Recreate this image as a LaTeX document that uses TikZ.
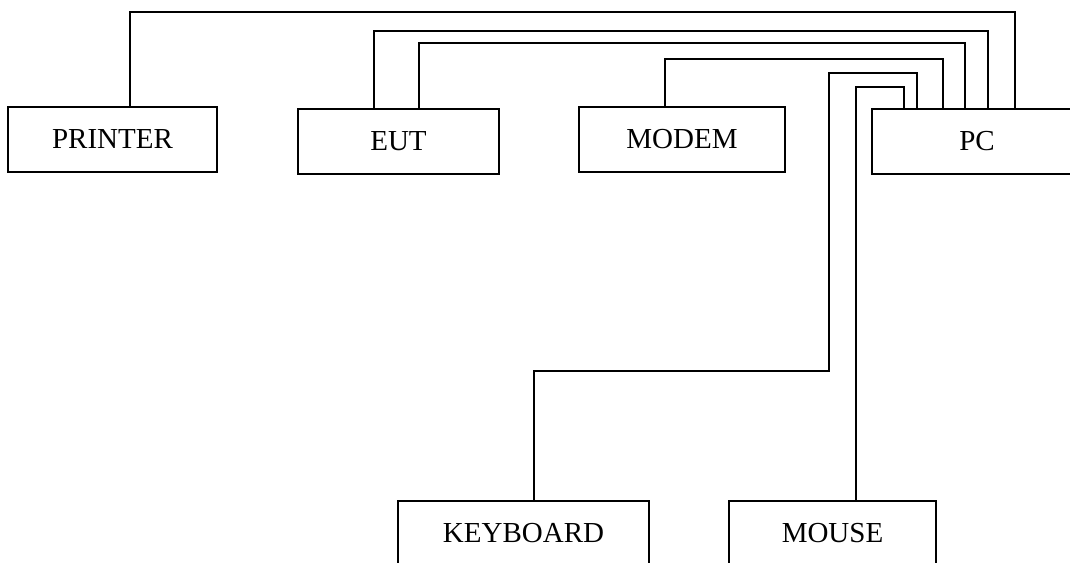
\documentclass[tikz,border=0pt]{standalone}
\usepackage{fontspec}
\setmainfont{Liberation Serif}
\begin{document}
\begin{tikzpicture}[x=1pt,y=-1pt,
  unit/.style={draw,line width=1.8pt,rectangle,inner sep=0pt,minimum height=65pt,
    font=\fontsize{29pt}{34pt}\selectfont},
  cable/.style={line width=1.8pt}]
\clip (0,0) rectangle (1070,562);
\fill[white] (0,0) rectangle (1070,562);
\node[unit,minimum width=209pt] (printer) at (112.5,139.5) {PRINTER};
\node[unit,minimum width=201pt] (eut) at (398.5,141.5) {EUT};
\node[unit,minimum width=206pt] (modem) at (682,139.5) {MODEM};
\node[unit,minimum width=210pt] (pc) at (977,141.5) {PC};
\node[unit,minimum width=251pt] (kbd) at (523.5,533.5) {KEYBOARD};
\node[unit,minimum width=207pt] (mouse) at (832.5,533.5) {MOUSE};
\draw[cable] ([xshift=17.5pt]printer.north) -- ++(0,-94) -| ([xshift=38pt]pc.north);
\draw[cable] ([xshift=-24.5pt]eut.north) -- ++(0,-77) -| ([xshift=11pt]pc.north);
\draw[cable] ([xshift=20.5pt]eut.north) -- ++(0,-65) -| ([xshift=-12pt]pc.north);
\draw[cable] ([xshift=-17pt]modem.north) -- ++(0,-47) -| ([xshift=-34pt]pc.north);
\draw[cable] ([xshift=10.5pt]kbd.north) -- ++(0,-129) -- ++(295,0) -- ++(0,-298) -| ([xshift=-60pt]pc.north);
\draw[cable] ([xshift=23.5pt]mouse.north) -- ++(0,-413) -| ([xshift=-73pt]pc.north);
\end{tikzpicture}
\end{document}
